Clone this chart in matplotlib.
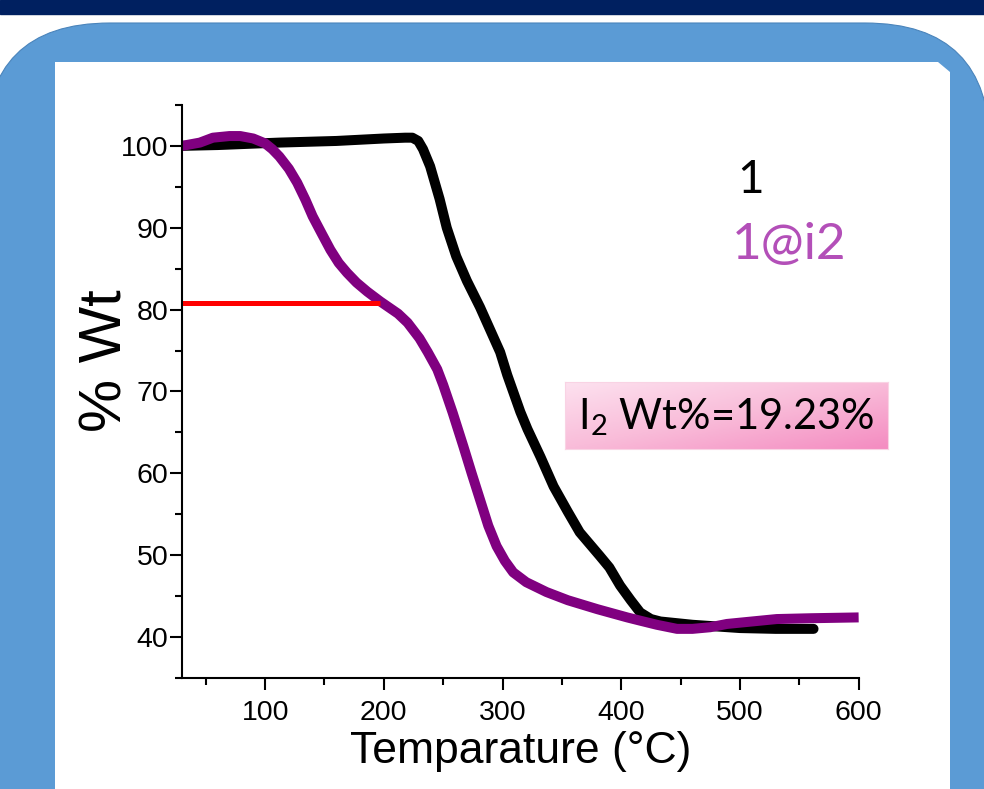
import matplotlib
matplotlib.use("Agg")
import matplotlib.pyplot as plt
import numpy as np
from matplotlib.patches import Rectangle, FancyBboxPatch, Polygon
from matplotlib.colors import LinearSegmentedColormap
from matplotlib.ticker import MultipleLocator

# TGA curves: temperature (°C), weight (%)
temp_1 = [30, 60, 112, 160, 200, 218, 224, 229, 233, 239, 247, 253, 261, 270,
          281, 298, 304, 315, 321, 332, 343, 355, 365, 382, 390, 399, 408, 416,
          425, 433, 460, 500, 530, 562]
wt_1 = [100.0, 100.1, 100.4, 100.6, 100.9, 101.0, 101.0, 100.6, 99.6, 97.5,
        93.5, 90.0, 86.5, 83.5, 80.3, 74.8, 72.0, 67.5, 65.4, 62.0, 58.4, 55.3,
        52.8, 49.9, 48.5, 46.3, 44.5, 43.0, 42.2, 41.9, 41.5, 41.1, 41.0, 41.0]

temp_1i2 = [30, 45, 56, 70, 79, 90, 100, 106, 112, 120, 127, 134, 140, 148, 155,
            162, 169, 177, 186, 197, 203, 212, 220, 230, 237, 245, 250, 258, 267,
            274, 281, 288, 295, 302, 309, 320, 337, 355, 380, 405, 416, 430, 447,
            460, 475, 489, 510, 531, 560, 600]
wt_1i2 = [100.0, 100.4, 101.0, 101.2, 101.2, 100.9, 100.3, 99.6, 98.7, 97.2,
          95.5, 93.4, 91.4, 89.2, 87.3, 85.7, 84.5, 83.3, 82.2, 81.0, 80.4, 79.5,
          78.4, 76.5, 74.8, 72.7, 70.8, 67.4, 63.3, 60.0, 56.8, 53.6, 51.1, 49.3,
          47.9, 46.7, 45.5, 44.5, 43.4, 42.4, 42.0, 41.5, 41.0, 41.0, 41.2, 41.6,
          41.9, 42.2, 42.3, 42.4]

# iodine plateau marker
plateau_temp = [30, 197]
plateau_wt = [80.85, 80.85]

series_labels = ["1", "1@i2"]
annotation = "I$_\\mathrm{2}$ Wt%=19.23%"

plt.rcParams["font.family"] = ["Liberation Sans", "DejaVu Sans"]
plt.rcParams["mathtext.fontset"] = "custom"
plt.rcParams["mathtext.rm"] = "Lato"

fig = plt.figure(figsize=(9.84, 7.89), dpi=100)
fig.patch.set_facecolor("white")

# slide-style background, in pixel units
bg = fig.add_axes([0, 0, 1, 1], zorder=0)
bg.set_xlim(0, 984)
bg.set_ylim(789, 0)
bg.axis("off")
bg.add_patch(Rectangle((0, 0), 984, 14, color="#002060"))
bg.add_patch(FancyBboxPatch((-15, 23), 1005, 900,
                            boxstyle="round,pad=0,rounding_size=125",
                            facecolor="#5B9BD5", edgecolor="#4a84bb", lw=0.8))
bg.add_patch(Polygon([(55, 62), (938, 62), (950, 72), (950, 800), (55, 800)],
                     closed=True, facecolor="white", edgecolor="none"))

ax = fig.add_axes([0.185, 0.1407, 0.6876, 0.7263], zorder=1)
ax.set_facecolor("none")

ax.plot(temp_1, wt_1, color="black", lw=7.2, solid_capstyle="round",
        solid_joinstyle="round")
ax.plot(temp_1i2, wt_1i2, color="#800080", lw=7.2, solid_capstyle="butt",
        solid_joinstyle="round")
ax.plot(plateau_temp, plateau_wt, color="#ff0000", lw=3.6, solid_capstyle="butt")

ax.set_xlim(30, 600)
ax.set_ylim(35, 105)
ax.xaxis.set_minor_locator(MultipleLocator(50))
ax.yaxis.set_minor_locator(MultipleLocator(5))
ax.set_xticks([100, 200, 300, 400, 500, 600])
ax.set_yticks([40, 50, 60, 70, 80, 90, 100])

for side in ("top", "right"):
    ax.spines[side].set_visible(False)
for side in ("left", "bottom"):
    ax.spines[side].set_linewidth(1.5)

ax.tick_params(which="major", direction="out", length=8.5, width=1.5,
               labelsize=20.5)
ax.tick_params(which="minor", direction="out", length=5, width=1.5)
ax.tick_params(axis="y", pad=1.5)
ax.tick_params(axis="x", pad=7)

ax.set_xlabel("Temparature (°C)", fontsize=32, labelpad=4)
ax.set_ylabel("% Wt", fontsize=43)
ax.yaxis.set_label_coords(-0.072, 0.553)

ax.text(0.82, 0.869, series_labels[0], transform=ax.transAxes, fontsize=33,
        family="Lato", color="black", ha="left", va="center")
ax.text(0.812, 0.756, series_labels[1], transform=ax.transAxes, fontsize=37,
        family="Lato", color="#B34FB8", ha="left", va="center")

# pink gradient label box
box = fig.add_axes([565 / 984, 1 - 449 / 789, 323 / 984, 67 / 789], zorder=2)
grad = np.add.outer(np.linspace(0, 1, 40), np.linspace(0, 1, 120)) / 2
pink = LinearSegmentedColormap.from_list("pink", ["#fde1ef", "#f9bcd9", "#f48cc1"])
box.imshow(grad, cmap=pink, aspect="auto", extent=(0, 1, 0, 1), origin="upper")
box.set_xticks([])
box.set_yticks([])
for sp in box.spines.values():
    sp.set_color("#f9d3e4")
    sp.set_linewidth(0.8)
box.text(0.04, 0.48, annotation, transform=box.transAxes, fontsize=30,
         family="Lato", color="black", ha="left", va="center")

fig.savefig("out.png", dpi=100)
